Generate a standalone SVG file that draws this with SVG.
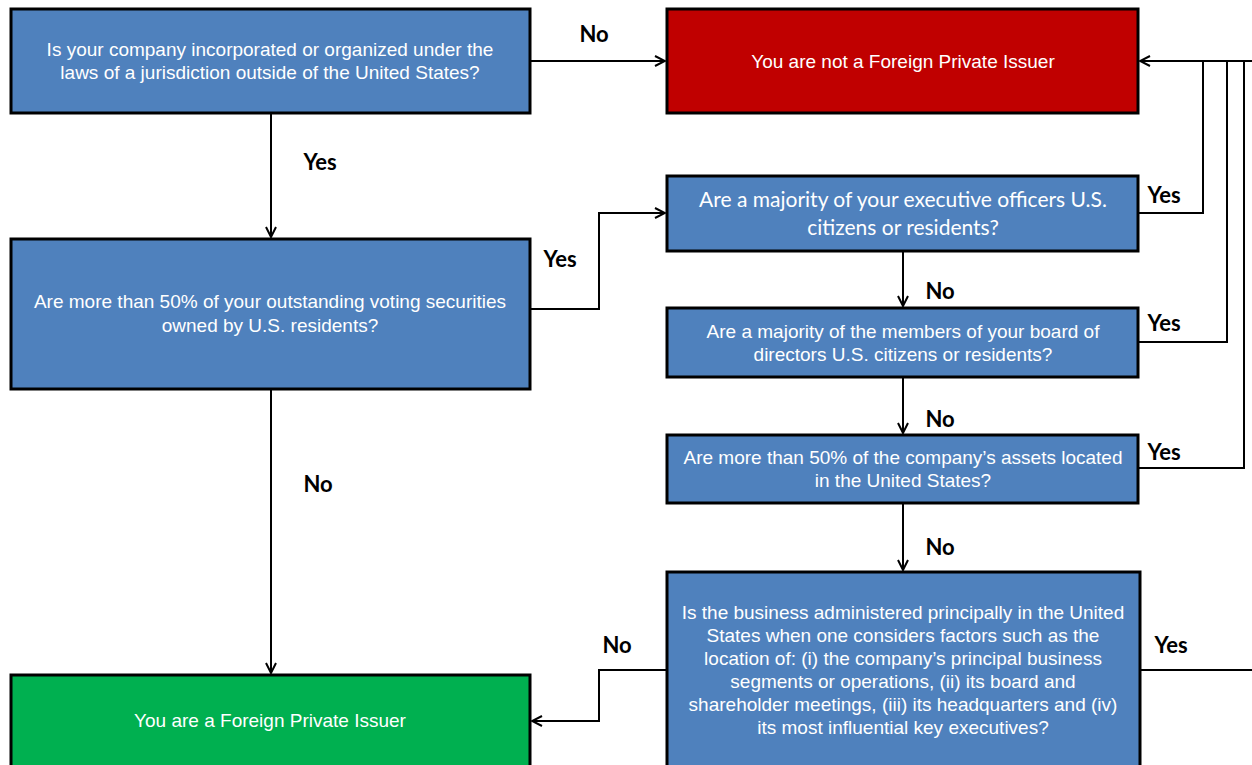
<svg xmlns="http://www.w3.org/2000/svg" width="1252" height="765" viewBox="0 0 1252 765">
<defs>
<marker id="arr" viewBox="0 0 12 12" refX="11" refY="6" markerWidth="12" markerHeight="12" markerUnits="userSpaceOnUse" orient="auto">
<path d="M1,1 L11,6 L1,11" fill="none" stroke="#000" stroke-width="2"/>
</marker>
<style>
.box{stroke:#000;stroke-width:3}
.blue{fill:#4f81bd}
.red{fill:#c00000}
.green{fill:#00b050}
.t{font-family:"Liberation Sans",Arial,sans-serif;font-size:19px;fill:#fff;text-anchor:middle}
.tc{font-family:Lato,"Liberation Sans",sans-serif;font-size:21px;fill:#fff;text-anchor:middle}
.lbl{font-family:Lato,"Liberation Sans",sans-serif;font-size:22px;font-weight:bold;fill:#000;text-anchor:middle}
.c{fill:none;stroke:#000;stroke-width:2}
</style>
</defs>
<rect width="1252" height="765" fill="#fff"/>
<g id="connectors">
<path class="c" d="M530,61 H665" marker-end="url(#arr)"/>
<path class="c" d="M271,113 V237" marker-end="url(#arr)"/>
<path class="c" d="M530,309 H599 V213 H665" marker-end="url(#arr)"/>
<path class="c" d="M271,389 V673" marker-end="url(#arr)"/>
<path class="c" d="M903,251 V306" marker-end="url(#arr)"/>
<path class="c" d="M903,377 V433" marker-end="url(#arr)"/>
<path class="c" d="M903,503 V570" marker-end="url(#arr)"/>
<path class="c" d="M667,670 H599 V721 H532" marker-end="url(#arr)"/>
<path class="c" d="M1252,61 H1140" marker-end="url(#arr)"/>
<path class="c" d="M1138,213 H1203 V61"/>
<path class="c" d="M1138,342 H1227 V61"/>
<path class="c" d="M1138,468 H1244 V61"/>
<path class="c" d="M1140,670 H1252"/>
<text class="lbl" x="594" y="42">No</text>
<text class="lbl" x="320" y="170">Yes</text>
<text class="lbl" x="560" y="267">Yes</text>
<text class="lbl" x="318" y="492">No</text>
<text class="lbl" x="940" y="299">No</text>
<text class="lbl" x="940" y="427">No</text>
<text class="lbl" x="940" y="555">No</text>
<text class="lbl" x="617" y="653">No</text>
<text class="lbl" x="1164" y="203">Yes</text>
<text class="lbl" x="1164" y="331">Yes</text>
<text class="lbl" x="1164" y="460">Yes</text>
<text class="lbl" x="1171" y="653">Yes</text>
</g>
<g id="q-incorporated">
<rect class="box blue" x="11" y="9" width="519" height="104"/>
<text class="t" x="270" y="56">Is your company incorporated or organized under the</text>
<text class="t" x="270" y="79">laws of a jurisdiction outside of the United States?</text>
</g>
<g id="not-fpi">
<rect class="box red" x="667" y="9" width="471" height="104"/>
<text class="t" x="903" y="68">You are not a Foreign Private Issuer</text>
</g>
<g id="q-executives">
<rect class="box blue" x="667" y="176" width="471" height="75"/>
<text class="tc" x="903" y="207">Are a majority of your executive officers U.S.</text>
<text class="tc" x="903" y="235">citizens or residents?</text>
</g>
<g id="q-voting">
<rect class="box blue" x="11" y="239" width="519" height="150"/>
<text class="t" x="270" y="308">Are more than 50% of your outstanding voting securities</text>
<text class="t" x="270" y="332">owned by U.S. residents?</text>
</g>
<g id="q-board">
<rect class="box blue" x="667" y="308" width="471" height="69"/>
<text class="t" x="903" y="338">Are a majority of the members  of your board of</text>
<text class="t" x="903" y="361">directors U.S. citizens or residents?</text>
</g>
<g id="q-assets">
<rect class="box blue" x="667" y="435" width="471" height="68"/>
<text class="t" x="903" y="464">Are more than 50% of the company’s assets located</text>
<text class="t" x="903" y="487">in the United States?</text>
</g>
<g id="q-administered">
<rect class="box blue" x="667" y="572" width="473" height="200"/>
<text class="t" x="903" y="619">Is the business administered principally in the United</text>
<text class="t" x="903" y="642">States when one considers factors such as the</text>
<text class="t" x="903" y="665">location of: (i) the company’s principal business</text>
<text class="t" x="903" y="688">segments or operations, (ii) its board and</text>
<text class="t" x="903" y="711">shareholder meetings, (iii) its headquarters and (iv)</text>
<text class="t" x="903" y="734">its most influential key executives?</text>
</g>
<g id="fpi">
<rect class="box green" x="11" y="675" width="519" height="100"/>
<text class="t" x="270" y="727">You are a Foreign Private Issuer</text>
</g>
</svg>
